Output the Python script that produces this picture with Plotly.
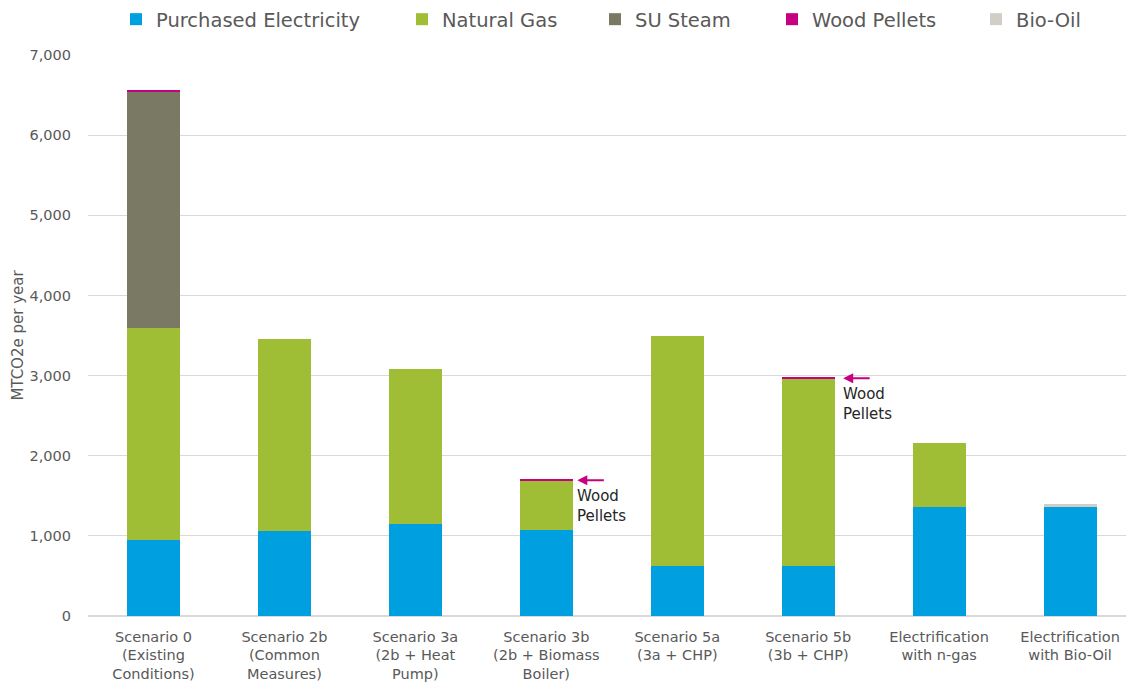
import plotly.graph_objects as go

categories = ["Scenario 0<br>(Existing<br>Conditions)", "Scenario 2b<br>(Common<br>Measures)",
              "Scenario 3a<br>(2b + Heat<br>Pump)", "Scenario 3b<br>(2b + Biomass<br>Boiler)",
              "Scenario 5a<br>(3a + CHP)", "Scenario 5b<br>(3b + CHP)",
              "Electrification<br>with n-gas", "Electrification<br>with Bio-Oil"]
electricity = [950, 1060, 1146, 1071, 623, 623, 1360, 1360]
natural_gas = [2640, 2400, 1940, 610, 2865, 2340, 795, 0]
su_steam = [2950, 0, 0, 0, 0, 0, 0, 0]
wood_pellets = [20, 0, 0, 25, 0, 15, 0, 0]
bio_oil = [0, 0, 0, 0, 0, 0, 0, 35]

series = [
    ("Purchased Electricity", electricity, "#009FDF"),
    ("Natural Gas", natural_gas, "#9FBE36"),
    ("SU Steam", su_steam, "#7A7A64"),
    ("Wood Pellets", wood_pellets, "#C6007E"),
    ("Bio-Oil", bio_oil, "#D0CEC6"),
]
# legend symbol positions (px from left) in the reference
legend_px = [140, 426, 619, 796, 1000]

PL, PR, PT, PB = 88, 1126, 54, 616
font = "DejaVu Sans, Verdana, sans-serif"
xs = list(range(len(categories)))
fig = go.Figure()
legends = {}
for i, (name, vals, col) in enumerate(series):
    lg = "legend" if i == 0 else f"legend{i+1}"
    fig.add_trace(go.Bar(x=xs, y=vals, name=name, marker_color=col, marker_line_width=0, legend=lg))
    legends[lg] = dict(orientation="h", x=(legend_px[i] - 10 - 14 - PL) / (PR - PL), xanchor="left",
                       y=(PB - 18) / (PB - PT), yanchor="middle", bgcolor="rgba(0,0,0,0)",
                       font=dict(size=19.5, color="#595959", family=font), itemwidth=30)

fig.update_layout(
    barmode="stack", bargap=0.595,
    width=1126, height=683,
    margin=dict(l=PL, r=0, t=PT, b=683 - PB),
    plot_bgcolor="white", paper_bgcolor="white",
    font=dict(family=font, color="#595959", size=14.5),
    xaxis=dict(tickmode="array", tickvals=xs, ticktext=categories, range=[-0.5, 7.427],
               showgrid=False, zeroline=False, showline=False, ticks="", ticklabelstandoff=10,
               tickfont=dict(size=14.5, color="#595959")),
    yaxis=dict(range=[0, 7000], dtick=1000, tickformat=",", showgrid=True,
               gridcolor="#D9D9D9", zeroline=True, zerolinecolor="#D9D9D9",
               ticks="", ticklabelstandoff=16, tickfont=dict(size=14.5, color="#595959"),
               title=dict(text="MTCO2e per year", font=dict(size=15, color="#595959"), standoff=2)),
    showlegend=True,
    **legends,
)

arrows = [(3, 3.237, 3.218), (5, 5.267, 5.249)]
for idx, xa, xt in arrows:
    yv = electricity[idx] + natural_gas[idx] + wood_pellets[idx]
    fig.add_annotation(x=xa, y=yv, xref="x", yref="y", text="", showarrow=True, yshift=-1,
                       ax=28, ay=0, arrowhead=2, arrowsize=1, arrowwidth=2, arrowcolor="#C6007E")
    fig.add_annotation(x=xt, y=yv, xref="x", yref="y", text="Wood<br>Pellets",
                       showarrow=False, xanchor="left", yanchor="top", yshift=-6, align="left",
                       font=dict(size=15, color="#262626", family=font))

fig.write_html("out.html")
